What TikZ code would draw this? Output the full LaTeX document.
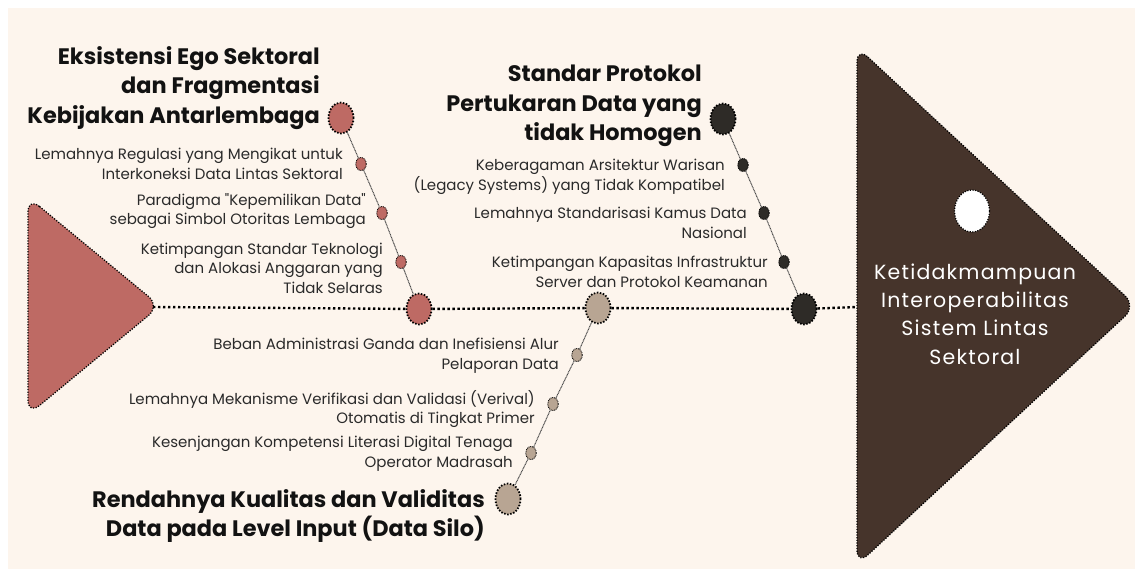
\documentclass[tikz,border=0pt]{standalone}
\usepackage{fontspec}
\setmainfont{Poppins}[Ligatures=TeXOff]
\usetikzlibrary{shapes.geometric}
\definecolor{bg}{HTML}{FDF5ED}
\definecolor{redc}{HTML}{BE6A64}
\definecolor{darkc}{HTML}{2E2B27}
\definecolor{beigec}{HTML}{B8A593}
\definecolor{brownc}{HTML}{46342B}
\definecolor{inkc}{HTML}{121212}
\definecolor{bodyc}{HTML}{2A2A2A}
\definecolor{linkc}{HTML}{4A4A4A}
\tikzset{
  bigbub/.style={ellipse, inner sep=0pt, minimum width=25pt, minimum height=31pt, draw=black, line width=1.8pt, dash pattern=on 1.5pt off 1.6pt},
  smallbub/.style={ellipse, inner sep=0pt, minimum width=10.5pt, minimum height=13pt, draw=black, line width=0.9pt, dash pattern=on 0.9pt off 0.9pt},
  spineline/.style={line width=2.4pt, dash pattern=on 2.4pt off 2.6pt, black},
  linkline/.style={line width=1pt, dash pattern=on 1pt off 0.6pt, linkc},
  heading/.style={align=right, inner sep=0pt, text=inkc, font=\fontsize{22.4}{29.5}\selectfont\bfseries},
  bodytext/.style={align=right, inner sep=0pt, text=bodyc, font=\fontsize{15}{19.6}\selectfont},
  triborder/.style={draw=black, line width=1.3pt, dash pattern=on 1.2pt off 1.5pt, rounded corners=15pt}
}
\begin{document}
\begin{tikzpicture}[x=1pt,y=-1pt]
\useasboundingbox (0,0) rectangle (1135,569);
\fill[white] (0,0) rectangle (1135,569);
\fill[bg] (8,8) rectangle (1135,569);

% tail (left) and head (right) triangles
\filldraw[fill=redc, triborder] (28,197) -- (160,306) -- (28,415) -- cycle;
\filldraw[fill=brownc, triborder] (857,47) -- (1136,306) -- (857,565) -- cycle;
\node[ellipse, fill=white, draw=black, line width=1.2pt, dash pattern=on 1.2pt off 1.4pt, minimum width=35pt, minimum height=42pt, inner sep=0pt] (hole) at (972,211) {};
\coordinate (ltip) at (153,307);
\coordinate (rin) at (857,307);
\node[align=center, inner sep=0pt, text=white, font=\fontsize{20.5}{28.4}\selectfont\addfontfeatures{LetterSpace=6}] (effect) at (975,314) {Ketidakmampuan\\Interoperabilitas\\Sistem Lintas\\Sektoral};

% bubbles
\node[bigbub, fill=redc] (sp1) at (419,309) {};
\node[bigbub, fill=beigec] (sp3) at (598,308) {};
\node[bigbub, fill=darkc] (sp2) at (804,309) {};

\node[bigbub, fill=redc] (h1) at (341,118) {};
\node[smallbub, fill=redc] (s11) at (361,164) {};
\node[smallbub, fill=redc] (s12) at (382,213) {};
\node[smallbub, fill=redc] (s13) at (401,262) {};

\node[bigbub, fill=darkc] (h2) at (723,119) {};
\node[smallbub, fill=darkc] (s21) at (743,165) {};
\node[smallbub, fill=darkc] (s22) at (764,213) {};
\node[smallbub, fill=darkc] (s23) at (784,262) {};

\node[bigbub, fill=beigec] (h3) at (508,499) {};
\node[smallbub, fill=beigec] (s31) at (577,355) {};
\node[smallbub, fill=beigec] (s32) at (553,404) {};
\node[smallbub, fill=beigec] (s33) at (531,453) {};

% spine
\draw[spineline] (ltip) -- (sp1) -- (sp3) -- (sp2) -- (rin);

% branches
\draw[linkline] (h1) -- (s11) -- (s12) -- (s13) -- (sp1);
\draw[linkline] (h2) -- (s21) -- (s22) -- (s23) -- (sp2);
\draw[linkline] (h3) -- (s33) -- (s32) -- (s31) -- (sp3);

% headings
\node[heading, anchor=east] (t1) at (320,88) {Eksistensi Ego Sektoral\\dan Fragmentasi\\Kebijakan Antarlembaga};
\node[heading, anchor=east] (t2) at (702,106) {Standar Protokol\\Pertukaran Data yang\\tidak Homogen};
\node[heading, anchor=east] (t3) at (485,516) {Rendahnya Kualitas dan Validitas\\Data pada Level Input (Data Silo)};

% branch 1 causes
\node[bodytext, anchor=east] (c11) at (343,164) {Lemahnya Regulasi yang Mengikat untuk\\Interkoneksi Data Lintas Sektoral};
\node[bodytext, anchor=east] (c12) at (366,211) {Paradigma "Kepemilikan Data"\\sebagai Simbol Otoritas Lembaga};
\node[bodytext, anchor=east] (c13) at (383,268) {Ketimpangan Standar Teknologi\\dan Alokasi Anggaran yang\\Tidak Selaras};

% branch 2 causes
\node[bodytext, anchor=east] (c21) at (725,177) {Keberagaman Arsitektur Warisan\\(Legacy Systems) yang Tidak Kompatibel};
\node[bodytext, anchor=east] (c22) at (747,223) {Lemahnya Standarisasi Kamus Data\\Nasional};
\node[bodytext, anchor=east] (c23) at (768,272) {Ketimpangan Kapasitas Infrastruktur\\Server dan Protokol Keamanan};

% branch 3 causes
\node[bodytext, anchor=east] (c31) at (559,356) {Beban Administrasi Ganda dan Inefisiensi Alur\\Pelaporan Data};
\node[bodytext, anchor=east] (c32) at (535,409) {Lemahnya Mekanisme Verifikasi dan Validasi (Verival)\\Otomatis di Tingkat Primer};
\node[bodytext, anchor=east] (c33) at (513,454) {Kesenjangan Kompetensi Literasi Digital Tenaga\\Operator Madrasah};
\end{tikzpicture}
\end{document}
